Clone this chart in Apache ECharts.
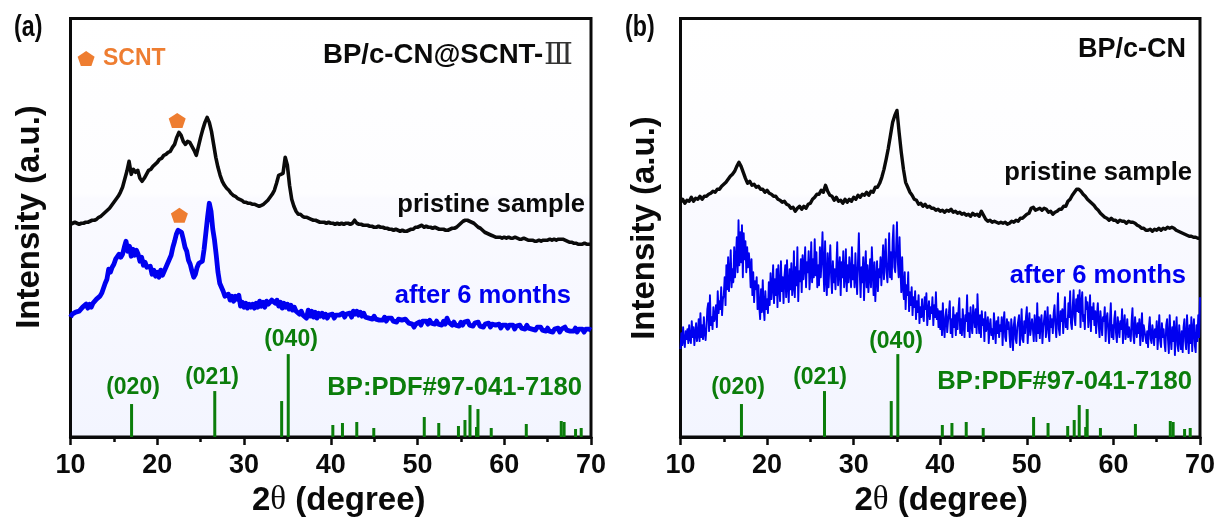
<!DOCTYPE html>
<html><head><meta charset="utf-8">
<style>html,body{margin:0;padding:0;background:#fff}#c{width:1220px;height:520px}</style>
<script src="https://cdn.jsdelivr.net/npm/echarts@6/dist/echarts.min.js"></script>
</head><body><div id="c"></div>
<script>
const xTicks=[10,20,30,40,50,60,70];
const stickX=[17.04,26.63,34.34,35.1,40.24,41.35,43,44.96,50.78,52.45,54.72,55.47,56.05,56.8,56.97,58.5,62.54,66.57,66.9,68.22,68.87];
const stickH=[33,46,36,83,12,14,15,9,20,14,11,17,32,10,28,9,13,16,15,8,9];
const markerA=[[11.8,379],[22.3,317],[22.55,222]];

// sampled every 0.25 degree from 10
const blackA=[213,214,215,214,213,214,214,215,215,216,217,217,218,220,221,223,225,227,229,232,235,238,241,245,
250,258,266,276,263,268,265,267,259,256,259,263,267,268,271,273,275,278,279,282,283,285,286,290,
293,300,305,302,296,293,296,295,291,287,282,291,300,308,315,320,315,306,293,280,270,262,256,252,
249,247,244,242,241,239,238,237,235,235,234,234,233,233,232,231,232,233,235,237,240,243,247,254,
262,263,264,280,272,252,238,231,226,223,223,221,220,220,219,218,217,217,216,215,215,215,214,215,
214,214,213,214,213,214,213,214,214,213,214,217,214,213,213,212,212,212,211,211,210,210,211,210,
210,209,209,208,208,207,208,207,206,207,206,206,207,208,208,210,210,211,212,210,211,210,210,209,
210,209,208,208,208,207,207,208,209,209,210,212,214,216,217,217,216,215,214,212,210,209,207,205,
204,203,202,201,200,200,200,199,200,199,200,199,199,200,199,198,198,199,198,197,197,197,196,196,
197,196,197,197,197,198,197,198,197,198,198,198,197,196,195,195,194,194,193,193,193,194,193,193,193];

// sampled every 0.2 degree from 10
const blueA=[120,123,121,125,123,126,124,130,128,133,129,133,130,134,132,138,136,141,144,142,
154,158,168,165,170,173,178,176,183,180,183,190,196,186,191,181,188,182,187,183,
176,180,172,175,170,168,171,163,167,161,165,160,167,162,166,170,174,176,182,190,
196,203,207,209,205,198,190,186,177,173,166,160,163,170,174,172,176,188,204,220,
234,226,208,197,182,165,154,150,146,141,139,143,137,141,136,141,138,142,131,135,
130,134,129,133,130,133,129,134,130,136,131,135,130,136,133,132,137,139,134,137,
131,135,129,134,130,133,128,132,127,130,126,128,123,126,122,124,119,127,121,126,
120,125,119,124,121,124,120,123,119,122,120,123,119,122,120,122,121,124,120,123,
121,124,120,126,123,126,122,125,121,124,120,122,119,121,118,121,118,120,117,119,
117,120,116,119,117,119,116,118,115,118,116,117,115,118,116,114,116,113,110,113,
111,115,112,116,114,116,113,117,114,116,113,116,113,115,112,116,113,119,115,114,
112,115,112,114,111,115,112,115,113,116,112,114,111,114,112,115,111,113,110,113,
111,114,110,113,111,112,110,113,109,112,110,112,109,112,110,112,108,111,109,112,
109,111,108,112,109,111,108,110,107,110,108,110,107,109,106,109,106,108,105,108,
106,109,105,108,106,110,107,109,106,108,106,109,105,108,106,108,105,108,106,108,107];

// sampled every 0.25 degree from 10
const blackB=[235,238,234,237,236,240,236,239,238,241,238,241,241,243,244,246,245,248,248,251,253,255,258,261,
263,266,271,275,271,265,259,254,256,252,253,250,251,248,248,245,247,244,243,241,241,238,237,235,
236,233,232,229,230,226,229,231,228,231,229,233,234,238,240,243,243,247,245,252,246,242,241,237,
240,236,237,234,238,235,238,236,240,238,242,240,243,242,245,242,246,245,250,250,254,260,268,278,
289,302,315,322,327,305,285,268,255,250,245,242,238,237,233,234,231,233,230,231,229,229,227,228,
226,227,225,227,226,228,225,226,224,225,223,224,222,223,221,224,222,223,221,226,222,218,216,217,
215,216,215,214,215,214,215,213,214,216,215,217,216,219,219,221,223,224,229,230,227,228,229,227,
229,228,225,226,223,225,226,228,228,231,231,236,238,242,245,248,248,246,243,241,238,236,234,232,
229,227,224,222,220,219,217,219,217,217,215,217,216,216,214,216,215,215,214,212,211,209,209,207,
207,208,206,208,207,209,207,209,208,210,209,210,209,207,206,205,204,203,202,201,201,200,200,199,199];

// sampled every 0.1 degree from 10
const blueB=[88,104,92,110,96,90,106,98,108,94,
112,98,94,116,100,110,92,104,114,96,
102,118,96,124,100,112,98,120,104,97,
110,128,134,106,142,112,120,108,130,116,
120,132,110,146,124,136,128,150,122,138,
142,160,132,172,148,180,146,164,187,150,
168,155,190,160,178,200,165,217,172,205,
175,212,160,204,178,196,165,190,170,184,
172,150,178,142,165,135,156,148,160,128,
152,130,118,148,125,157,130,117,146,128,
138,124,155,132,164,138,150,172,134,158,
142,168,130,172,150,136,176,146,160,134,
160,172,140,177,152,135,168,148,174,142,
150,186,140,170,152,190,136,166,156,178,
145,182,158,170,190,150,175,165,186,148,
165,195,155,178,160,198,162,185,150,172,
152,190,160,178,205,170,146,196,158,142,
184,150,172,192,160,144,176,155,168,148,
170,195,152,166,180,142,175,160,186,150,
160,188,146,172,155,180,165,150,190,158,
172,150,184,160,143,176,204,165,140,170,
155,180,137,168,186,150,172,145,160,178,
150,190,165,142,175,136,158,176,146,168,
160,180,152,172,192,158,178,198,165,155,
175,204,160,185,158,196,212,170,165,188,
215,175,160,200,168,145,180,150,138,165,
128,152,142,165,126,145,132,150,122,140,
130,146,118,136,125,142,114,130,120,138,
122,116,140,128,144,112,126,136,118,130,
124,140,112,132,120,145,118,128,110,126,
108,126,102,134,112,100,120,128,105,116,
124,136,104,118,100,130,110,122,102,124,
108,126,139,104,118,102,128,112,100,122,
116,142,106,124,100,130,112,104,132,120,
110,128,104,143,118,104,122,100,126,112,
118,96,125,106,112,120,94,110,118,102,
108,98,124,110,94,116,104,120,100,112,
106,120,92,114,125,100,96,118,108,115,
102,90,118,106,87,112,120,98,94,110,
116,122,92,106,128,98,95,116,104,120,
130,94,112,124,102,100,118,108,96,122,
112,96,134,104,120,99,116,122,94,110,
118,126,100,112,130,104,96,122,110,118,
104,124,132,112,100,120,144,108,102,126,
116,128,104,122,140,110,118,108,134,120,
146,114,108,130,147,120,112,138,126,142,
125,147,110,134,145,116,122,108,140,128,
135,110,122,142,106,130,118,134,112,126,
104,122,134,112,100,126,114,102,120,116,
130,96,118,124,108,94,116,134,100,112,
98,118,126,104,95,120,110,100,116,108,
128,94,112,122,98,106,118,100,110,102,
96,116,129,102,94,120,108,100,114,104,
118,92,108,124,96,112,114,100,94,106,
90,110,120,98,94,112,104,92,108,100,
116,88,104,122,96,90,114,100,108,94,
86,112,118,98,84,122,100,88,110,96,
116,82,104,120,92,86,112,98,88,106,
85,110,118,96,88,122,102,84,112,94,
120,86,108,118,92,85,112,96,122,100,140];

const sampled=(vals,step)=>vals.map((v,i)=>[10+i*step,v]);
const pentagon='path://M50 0 L100 38 L81 100 L19 100 L0 38 Z';
const F='"Liberation Sans",Arial,sans-serif';
const BLACK='#0a0a0a',BLUE='#0000f0',GREEN='#0b7d0b',ORANGE='#ee7d31';
const grad={type:'linear',x:0,y:0,x2:0,y2:1,colorStops:[{offset:0,color:'#ffffff'},{offset:0.42,color:'#fdfdff'},{offset:0.43,color:'#fafaff'},{offset:1,color:'#f3f5ff'}]};

function xAxis(gi,pad){return {gridIndex:gi,type:'value',min:10,max:70,interval:10,
  name:'{n|2}{t|θ}{n| (degree)}',nameLocation:'middle',nameGap:47,
  nameTextStyle:{padding:[0,0,0,pad],rich:{n:{fontFamily:F,fontWeight:'bold',fontSize:33,color:BLACK},t:{fontFamily:'"Liberation Serif",serif',fontSize:33,fontWeight:'normal',color:BLACK}}},
  axisLine:{show:true,onZero:false,lineStyle:{color:BLACK,width:3}},
  axisTick:{show:true,length:8,inside:false,lineStyle:{color:BLACK,width:2.5}},
  minorTick:{show:true,splitNumber:2,length:5,lineStyle:{color:BLACK,width:2.5}},
  minorSplitLine:{show:false},splitLine:{show:false},
  axisLabel:{fontFamily:F,fontWeight:'bold',fontSize:27,color:BLACK,margin:15,customValues:xTicks,showMinLabel:true,showMaxLabel:true}};}
function yAxis(gi){return {gridIndex:gi,type:'value',min:0,max:419,show:true,
  axisLine:{show:false},axisTick:{show:false},axisLabel:{show:false},splitLine:{show:false}};}
function line(name,gi,data,color,w){return {name,type:'line',xAxisIndex:gi,yAxisIndex:gi,data,showSymbol:false,symbol:'none',smooth:false,clip:true,silent:true,z:3,lineStyle:{color,width:w,join:'round'}};}
function sticks(gi){return {name:'BP:PDF#97-041-7180',type:'bar',xAxisIndex:gi,yAxisIndex:gi,barWidth:3,silent:true,z:2,itemStyle:{color:GREEN},data:stickX.map((x,i)=>[x,stickH[i]])};}

const txt=(text,x,y,size,color,align,extra)=>({type:'text',x,y,silent:true,z:10,style:Object.assign({text,font:`bold ${size}px ${F}`,fill:color,align:align||'center',verticalAlign:'middle'},extra||{})});

const chart=echarts.init(document.getElementById('c'),null,{renderer:'canvas'});
chart.setOption({
  animation:false,backgroundColor:'#fff',
  grid:[
    {left:70.5,right:1220-591,top:18.5,height:418.5,outerBoundsMode:'none',show:true,backgroundColor:grad,borderColor:BLACK,borderWidth:3},
    {left:680.5,right:20,top:18.5,height:418.5,outerBoundsMode:'none',show:true,backgroundColor:grad,borderColor:BLACK,borderWidth:3}],
  xAxis:[xAxis(0,16),xAxis(1,2)],yAxis:[yAxis(0),yAxis(1)],
  series:[
    line('pristine sample',0,sampled(blackA,0.25),BLACK,3.6),
    line('after 6 months',0,sampled(blueA,0.2),BLUE,4.8),
    sticks(0),
    {name:'SCNT',type:'scatter',xAxisIndex:0,yAxisIndex:0,symbol:pentagon,symbolSize:[17,15],itemStyle:{color:ORANGE,opacity:1},data:markerA,silent:true,z:5},
    line('pristine sample',1,sampled(blackB,0.25),BLACK,3.4),
    line('after 6 months',1,sampled(blueB,0.1),BLUE,1.9),
    sticks(1)
  ],
  graphic:[
    Object.assign(txt('(a)',14,28,29,BLACK,'left'),{scaleX:0.8}),
    Object.assign(txt('(b)',625,28,29,BLACK,'left'),{scaleX:0.8}),
    Object.assign(txt('Intensity (a.u.)',0,0,33,BLACK),{x:30,y:217,rotation:Math.PI/2}),
    Object.assign(txt('Intensity (a.u.)',0,0,33,BLACK),{x:645,y:228,rotation:Math.PI/2}),
    txt('SCNT',103,59,23,ORANGE,'left'),
    txt('BP/c-CN@SCNT-',323,55,27.6,BLACK,'left'),
    {type:'text',x:544,y:56,silent:true,z:10,style:{text:'Ⅲ',font:'30px "Liberation Serif","DejaVu Serif",serif',fill:'#333',align:'left',verticalAlign:'middle'}},
    txt('pristine sample',585,205,25.6,BLACK,'right'),
    txt('after 6 months',571,296,25.6,BLUE,'right'),
    txt('(020)',133,388,23,GREEN),txt('(021)',212,378,23,GREEN),txt('(040)',291,340,23,GREEN),
    txt('BP:PDF#97-041-7180',582,388,25.6,GREEN,'right'),
    txt('BP/c-CN',1186,50,27,BLACK,'right'),
    txt('pristine sample',1192,173,25.6,BLACK,'right'),
    txt('after 6 months',1186,276,25.6,BLUE,'right'),
    txt('(020)',738,388,23,GREEN),txt('(021)',820,378,23,GREEN),txt('(040)',896,342,23,GREEN),
    txt('BP:PDF#97-041-7180',1192,382,25.6,GREEN,'right')
  ]
});
</script></body></html>
